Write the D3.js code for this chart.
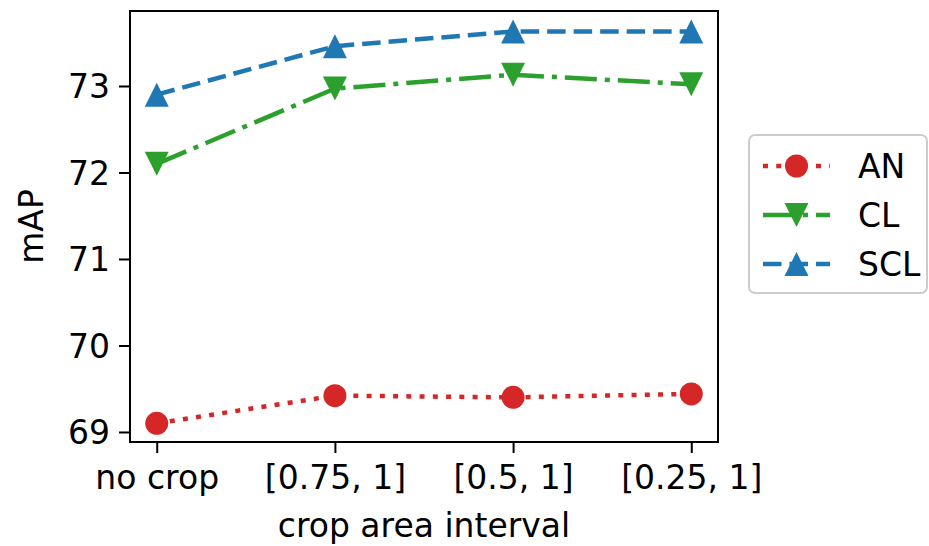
<!DOCTYPE html>
<html>
<head>
<meta charset="utf-8">
<script src="https://cdn.jsdelivr.net/npm/d3@7"></script>
<style>
  body { margin: 0; background: #fff; }
  text { font-family: "DejaVu Sans", sans-serif; fill: #000; }
</style>
</head>
<body>
<div id="chart-area"></div>
<script>

// data
var categories = ["no crop", "[0.75, 1]", "[0.5, 1]", "[0.25, 1]"];
var anValues  = [69.10, 69.42, 69.40, 69.44];
var clValues  = [72.10, 72.97, 73.13, 73.02];
var sclValues = [72.90, 73.46, 73.63, 73.63];
var yTicks = [69, 70, 71, 72, 73];

var series = [
    { name: "AN",  values: anValues,  color: "#d62728", dash: "5,8.25",       marker: "circle" },
    { name: "CL",  values: clValues,  color: "#2ca02c", dash: "32,8,5,8",     marker: "tri-down" },
    { name: "SCL", values: sclValues, color: "#1f77b4", dash: "18.5,8",       marker: "tri-up" }
];

var margin = { left:130, right:211, top:11, bottom:104 };

var width = 929 - margin.left - margin.right,
    height = 546 - margin.top - margin.bottom;

var svg = d3.select("#chart-area")
    .append("svg")
        .attr("width", 929)
        .attr("height", 546);

var g = svg.append("g")
    .attr("transform", "translate(" + margin.left + ", " + margin.top + ")");

// X Scale
var x = d3.scalePoint()
    .domain(categories)
    .range([0, width])
    .padding(0.15);

// Y Scale
var y = d3.scaleLinear()
    .domain([68.884, 73.867])
    .range([height, 0]);

// X Axis
var xAxisGroup = g.append("g")
    .attr("transform", "translate(0," + height + ")")
    .call(d3.axisBottom(x).tickSize(11).tickPadding(7));

// Y Axis
var yAxisGroup = g.append("g")
    .call(d3.axisLeft(y).tickValues(yTicks).tickSize(11).tickPadding(9).tickFormat(d3.format("d")));

[xAxisGroup, yAxisGroup].forEach(function(ax) {
    ax.select(".domain").remove();
    ax.selectAll(".tick line").attr("stroke", "#000").attr("stroke-width", 2);
    ax.selectAll(".tick text")
        .attr("font-size", "33px")
        .attr("font-family", "DejaVu Sans")
        .attr("fill", "#000");
});
xAxisGroup.selectAll(".tick text").attr("dy", "0.71em").attr("y", 24);
yAxisGroup.selectAll(".tick text").attr("dy", "0.36em");

// frame
g.append("rect")
    .attr("x", 0)
    .attr("y", 0)
    .attr("width", width)
    .attr("height", height)
    .attr("fill", "none")
    .attr("stroke", "#000")
    .attr("stroke-width", 2);

function drawMarker(sel, s, cx, cy) {
    if (s.marker === "circle") {
        sel.append("circle")
            .attr("cx", cx).attr("cy", cy).attr("r", 11.5)
            .attr("fill", s.color);
    } else {
        var h = 12;
        var dir = s.marker === "tri-up" ? -1 : 1;
        var pts = [[cx, cy + dir * h], [cx - h, cy - dir * h], [cx + h, cy - dir * h]];
        sel.append("path")
            .attr("d", "M" + pts.join("L") + "Z")
            .attr("fill", s.color);
    }
}

var line = d3.line()
    .x(function(d, i){ return x(categories[i]); })
    .y(function(d){ return y(d); });

series.forEach(function(s) {
    g.append("path")
        .datum(s.values)
        .attr("d", line)
        .attr("fill", "none")
        .attr("stroke", s.color)
        .attr("stroke-width", 4.5)
        .attr("stroke-dasharray", s.dash);
    s.values.forEach(function(v, i) {
        drawMarker(g, s, x(categories[i]), y(v));
    });
});

// X Label
svg.append("text")
    .attr("x", margin.left + width / 2)
    .attr("y", 537)
    .attr("font-size", "33px")
    .attr("text-anchor", "middle")
    .text("crop area interval");

// Y Label
svg.append("text")
    .attr("transform", "translate(43," + (margin.top + height / 2) + ") rotate(-90)")
    .attr("font-size", "33px")
    .attr("text-anchor", "middle")
    .text("mAP");

// Legend
var legend = svg.append("g");
legend.append("rect")
    .attr("x", 749)
    .attr("y", 135)
    .attr("width", 178)
    .attr("height", 158)
    .attr("rx", 6)
    .attr("fill", "#fff")
    .attr("fill-opacity", 0.8)
    .attr("stroke", "#cccccc")
    .attr("stroke-width", 2);

series.forEach(function(s, i) {
    var ly = 166 + i * 49;
    legend.append("line")
        .attr("x1", 763).attr("x2", 830)
        .attr("y1", ly).attr("y2", ly)
        .attr("stroke", s.color)
        .attr("stroke-width", 4.5)
        .attr("stroke-dasharray", s.dash);
    drawMarker(legend, s, 796.5, ly);
    legend.append("text")
        .attr("x", 858)
        .attr("y", ly)
        .attr("dy", "0.36em")
        .attr("font-size", "33px")
        .text(s.name);
});

</script>
</body>
</html>
